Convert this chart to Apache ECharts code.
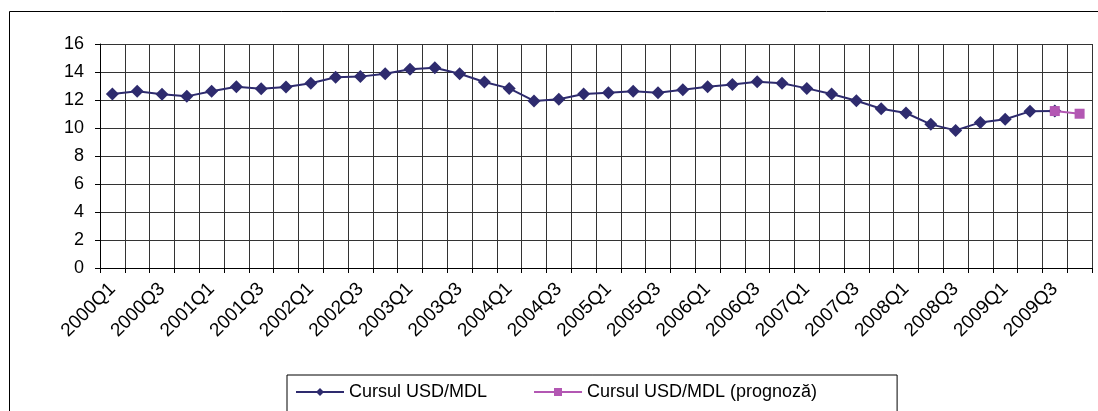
<!DOCTYPE html>
<html>
<head>
<meta charset="utf-8">
<script src="https://cdn.jsdelivr.net/npm/echarts@6/dist/echarts.min.js"></script>
<style>
  html, body { margin: 0; padding: 0; background: #fff; }
  #chart { width: 1098px; height: 411px; }
</style>
</head>
<body>
<div id="chart"></div>
<script>
// quarters 2000Q1 .. 2009Q4
var quarters = [];
for (var y = 2000; y <= 2009; y++) {
  for (var q = 1; q <= 4; q++) quarters.push(y + 'Q' + q);
}

// actual rate (up to 2009Q3)
var cursActual = [
  12.43, 12.62, 12.41, 12.26, 12.62, 12.95, 12.81, 12.93, 13.19, 13.62,
  13.67, 13.88, 14.19, 14.31, 13.88, 13.29, 12.83, 11.93, 12.05, 12.43,
  12.52, 12.62, 12.52, 12.74, 12.95, 13.10, 13.31, 13.19, 12.83, 12.43,
  11.95, 11.38, 11.07, 10.26, 9.83, 10.40, 10.62, 11.19, 11.21, null
];

// forecast
var cursForecast = [
  null, null, null, null, null, null, null, null, null, null,
  null, null, null, null, null, null, null, null, null, null,
  null, null, null, null, null, null, null, null, null, null,
  null, null, null, null, null, null, null, null, 11.21, 11.02
];

var yTicks = { min: 0, max: 16, interval: 2 };

(function () {
  var myChart = echarts.init(document.getElementById('chart'));
  var font = 'Liberation Sans, Arial, sans-serif';

  var option = {
    animation: false,
    backgroundColor: '#fff',
    graphic: [
      {
        type: 'rect',
        shape: { x: 9.5, y: 11.5, width: 1110, height: 420 },
        style: { fill: 'none', stroke: '#000', lineWidth: 1 },
        silent: true
      }
    ],
    grid: {
      left: 100,
      right: 6,
      top: 44,
      bottom: 143,
      containLabel: false
    },
    legend: {
      left: 287,
      top: 375,
      itemWidth: 48,
      itemHeight: 10,
      itemGap: 46,
      padding: [8, 80, 20, 8],
      borderColor: '#000',
      borderWidth: 1,
      textStyle: { fontFamily: font, fontSize: 18, color: '#000' },
      data: ['Cursul USD/MDL', 'Cursul USD/MDL (prognoză)']
    },
    xAxis: {
      type: 'category',
      data: quarters,
      boundaryGap: true,
      axisLine: { lineStyle: { color: '#000', width: 1 } },
      axisTick: { show: true, interval: 0, length: 5, lineStyle: { color: '#000' } },
      axisLabel: {
        interval: 1,
        rotate: 45,
        margin: 18,
        fontFamily: font,
        fontSize: 19,
        color: '#000'
      },
      splitLine: { show: true, interval: 0, lineStyle: { color: '#333', width: 1 } }
    },
    yAxis: {
      type: 'value',
      min: yTicks.min,
      max: yTicks.max,
      interval: yTicks.interval,
      axisLine: { show: true, lineStyle: { color: '#000', width: 1 } },
      axisTick: { show: true, length: 5, lineStyle: { color: '#000' } },
      axisLabel: { fontFamily: font, fontSize: 18, color: '#000', margin: 16 },
      splitLine: { show: true, lineStyle: { color: '#333', width: 1 } }
    },
    series: [
      {
        name: 'Cursul USD/MDL',
        type: 'line',
        data: cursActual,
        symbol: 'diamond',
        symbolSize: 13,
        lineStyle: { color: '#2e2b6e', width: 2 },
        itemStyle: { color: '#2e2b6e' },
        z: 3
      },
      {
        name: 'Cursul USD/MDL (prognoză)',
        type: 'line',
        data: cursForecast,
        symbol: 'rect',
        symbolSize: 10,
        lineStyle: { color: '#b357b3', width: 2 },
        itemStyle: { color: '#b357b3' },
        z: 4
      }
    ]
  };

  myChart.setOption(option);
  window.addEventListener('resize', function () {
    myChart.resize();
  });
})();
</script>
</body>
</html>
